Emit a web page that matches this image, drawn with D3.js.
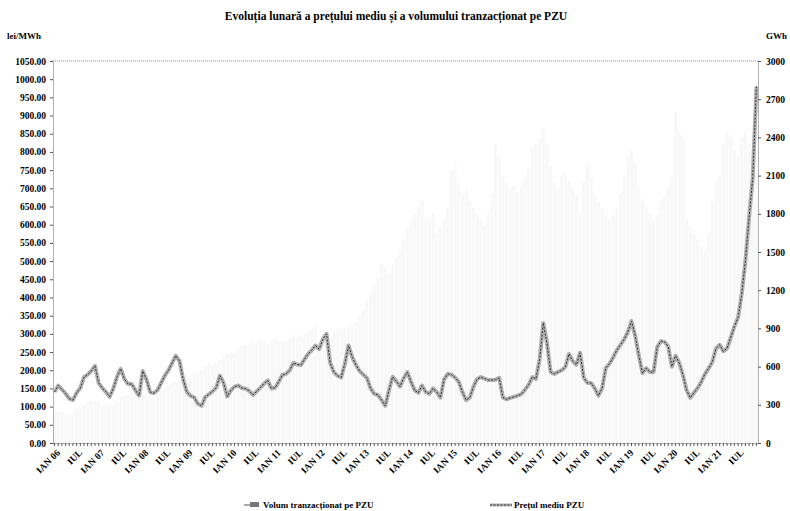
<!DOCTYPE html>
<html>
<head>
<meta charset="utf-8">
<script src="https://cdn.jsdelivr.net/npm/d3@7"></script>
<style>
  body { margin: 0; background: #fff; }
  svg text { font-family: "Liberation Serif", "DejaVu Serif", serif; font-weight: bold; fill: #000; }
</style>
</head>
<body>
<div id="graphic"></div>
<script>
// monthly data, Jan 2006 - Dec 2021
var firstYear = 2006;

// average PZU price, lei/MWh (one row per year)
var price = [
  140, 158, 147, 136, 122, 118, 138, 151, 181, 188, 198, 212,
  165, 151, 140, 127, 150, 182, 204, 176, 162, 162, 145, 130,
  198, 175, 140, 137, 145, 165, 185, 200, 220, 240, 225, 175,
  140, 130, 125, 108, 102, 126, 134, 142, 152, 185, 165, 128,
  145, 155, 158, 151, 149, 143, 132, 142, 152, 163, 172, 150,
  152, 168, 187, 190, 200, 220, 216, 214, 230, 245, 255, 268,
  258, 285, 300, 220, 195, 185, 180, 218, 268, 236, 215, 198,
  188, 179, 150, 135, 132, 118, 102, 145, 182, 170, 155, 178,
  195, 168, 145, 138, 158, 140, 135, 150, 140, 125, 175, 190,
  188, 180, 168, 140, 118, 125, 155, 176, 181, 177, 173, 173,
  174, 179, 125, 120, 124, 127, 130, 134, 146, 160, 181, 176,
  230, 330, 275, 195, 190, 195, 200, 209, 245, 225, 215, 248,
  180, 165, 165, 150, 130, 150, 206, 218, 235, 255, 270, 285,
  305, 335, 295, 240, 192, 206, 195, 195, 264, 280, 278, 265,
  210, 240, 220, 187, 145, 124, 138, 151, 168, 190, 205, 223,
  260, 270, 252, 260, 290, 320, 345, 410, 500, 620, 730, 980
];

// traded volume on PZU, GWh (one row per year)
var volume = [
  260, 240, 250, 230, 220, 240, 270, 280, 300, 320, 330, 340,
  330, 300, 310, 290, 300, 330, 360, 370, 380, 400, 420, 410,
  400, 380, 390, 370, 380, 410, 430, 450, 470, 480, 500, 490,
  520, 500, 540, 560, 580, 600, 620, 610, 630, 650, 680, 700,
  720, 700, 740, 760, 770, 780, 800, 790, 810, 790, 780, 800,
  820, 790, 810, 800, 830, 850, 820, 840, 860, 880, 900, 920,
  800, 820, 850, 830, 870, 900, 880, 900, 920, 930, 950, 1000,
  1050, 1120, 1180, 1250, 1300, 1410, 1380, 1320, 1400, 1450, 1520, 1600,
  1700, 1750, 1800, 1850, 1900, 1780, 1750, 1800, 1650, 1700, 1750, 1850,
  2150, 2200, 2050, 1950, 2000, 1900, 1850, 1800, 1750, 1700, 1800, 1950,
  2350, 2250, 2100, 2050, 2000, 2020, 1970, 2000, 2080, 2160, 2320, 2350,
  2400, 2480, 2350, 2180, 2050, 2000, 2100, 2120, 2050, 2000, 1950, 1800,
  2050, 2200, 2080, 1950, 1900, 1850, 1800, 1750, 1800, 1850, 1950, 2100,
  2250, 2300, 2200, 2000, 1900, 1850, 1800, 1750, 1800, 1900, 1950, 2000,
  2100, 2600, 2450, 2400, 1750, 1700, 1650, 1600, 1550, 1500, 1650, 1900,
  2050, 2100, 2350, 2450, 2400, 2300, 2250, 2400, 2450, 2350, 2300, 2200
];

// x tick labels, every 6 months
var xLabels = [
  "IAN 06", "IUL", "IAN 07", "IUL", "IAN 08", "IUL", "IAN 09", "IUL",
  "IAN 10", "IUL", "IAN 11", "IUL", "IAN 12", "IUL", "IAN 13", "IUL",
  "IAN 14", "IUL", "IAN 15", "IUL", "IAN 16", "IUL", "IAN 17", "IUL",
  "IAN 18", "IUL", "IAN 19", "IUL", "IAN 20", "IUL", "IAN 21", "IUL"
];

var leftTicks = d3.range(0, 1051, 50);
var rightTicks = d3.range(0, 3001, 300);

var W = 790, H = 511;
var margin = {top: 61, left: 53, right: 32, bottom: 68};

var svg = d3.select("#graphic").append("svg")
    .attr("width", W)
    .attr("height", H);

var months = d3.range(price.length);

var x = d3.scaleBand()
    .domain(months)
    .range([margin.left, W - margin.right])
    .paddingInner(0.15);

var yL = d3.scaleLinear().domain([0, 1050]).range([H - margin.bottom, margin.top]);
var yR = d3.scaleLinear().domain([0, 3000]).range([H - margin.bottom, margin.top]);

//title
svg.append("text")
    .attr("x", 396)
    .attr("y", 20)
    .attr("text-anchor", "middle")
    .style("font-size", "11.5px")
    .text("Evoluția lunară a prețului mediu și a volumului tranzacționat pe PZU");

svg.append("text").attr("x", 7).attr("y", 39).style("font-size", "9px").text("lei/MWh");
svg.append("text").attr("x", 766).attr("y", 39).style("font-size", "9px").text("GWh");

//volume bars (very pale, almost lost in the original)
svg.append("g").selectAll("rect")
    .data(volume)
    .enter().append("rect")
        .attr("x", function(d, i) { return x(i); })
        .attr("y", function(d) { return yR(d); })
        .attr("width", x.bandwidth())
        .attr("height", function(d) { return yR(0) - yR(d); })
        .style("fill", "#f8f8f8");

//plot top border
svg.append("line")
    .attr("x1", margin.left).attr("x2", W - margin.right)
    .attr("y1", margin.top).attr("y2", margin.top)
    .style("stroke", "#888")
    .style("stroke-dasharray", "1,1");

//axes
var axisL = svg.append("g")
    .attr("transform", "translate(" + margin.left + ",0)")
    .call(d3.axisLeft(yL).tickValues(leftTicks).tickFormat(d3.format(".2f")).tickSize(3).tickSizeOuter(0));

var axisR = svg.append("g")
    .attr("transform", "translate(" + (W - margin.right) + ",0)")
    .call(d3.axisRight(yR).tickValues(rightTicks).tickFormat(d3.format("d")).tickSize(3).tickSizeOuter(0));

var axisB = svg.append("g")
    .attr("transform", "translate(0," + (H - margin.bottom) + ")")
    .call(d3.axisBottom(x)
        .tickValues(months)
        .tickFormat(function(i) { return i % 6 === 0 ? xLabels[i / 6] : ""; })
        .tickSize(3)
        .tickSizeOuter(0));

axisB.selectAll("text")
    .attr("text-anchor", "end")
    .attr("dx", "-0.3em")
    .attr("dy", "0.6em")
    .attr("transform", "rotate(-45)");

[axisL, axisR, axisB].forEach(function(a) {
    a.selectAll(".domain").style("stroke", "#666").style("stroke-dasharray", "1,1");
    a.selectAll(".tick line").style("stroke", "#555");
    a.selectAll("text")
        .style("font-size", "9.5px")
        .style("fill", "#000")
        .style("font-family", "'Liberation Serif', serif")
        .style("font-weight", "bold");
});
axisL.selectAll("text").attr("x", -7);
axisR.selectAll("text").attr("x", 8);

//price line
var line = d3.line()
    .x(function(d, i) { return x(i) + x.bandwidth() / 2; })
    .y(function(d) { return yL(d); });

svg.append("path")
    .datum(price)
    .attr("d", line)
    .style("fill", "none")
    .style("stroke", "#b0b0b0")
    .style("stroke-width", 4)
    .style("stroke-linejoin", "round");

svg.append("path")
    .datum(price)
    .attr("d", line)
    .style("fill", "none")
    .style("stroke", "#333")
    .style("stroke-width", 1)
    .style("stroke-dasharray", "2,1.5");

//legend
var legend = svg.append("g").attr("class", "legend");

legend.append("line")
    .attr("x1", 244).attr("x2", 250).attr("y1", 505).attr("y2", 505)
    .style("stroke", "#555").style("stroke-width", 1);
legend.append("rect")
    .attr("x", 250).attr("y", 502)
    .attr("width", 9).attr("height", 5)
    .style("fill", "#777");
legend.append("text")
    .attr("x", 263).attr("y", 508)
    .style("font-size", "9px")
    .text("Volum tranzacționat pe PZU");

legend.append("line")
    .attr("x1", 490).attr("x2", 512).attr("y1", 505).attr("y2", 505)
    .style("stroke", "#b0b0b0").style("stroke-width", 3);
legend.append("line")
    .attr("x1", 490).attr("x2", 512).attr("y1", 505).attr("y2", 505)
    .style("stroke", "#333").style("stroke-width", 1).style("stroke-dasharray", "2,1.5");
legend.append("text")
    .attr("x", 514).attr("y", 508)
    .style("font-size", "9px")
    .text("Prețul mediu PZU");
</script>
</body>
</html>
